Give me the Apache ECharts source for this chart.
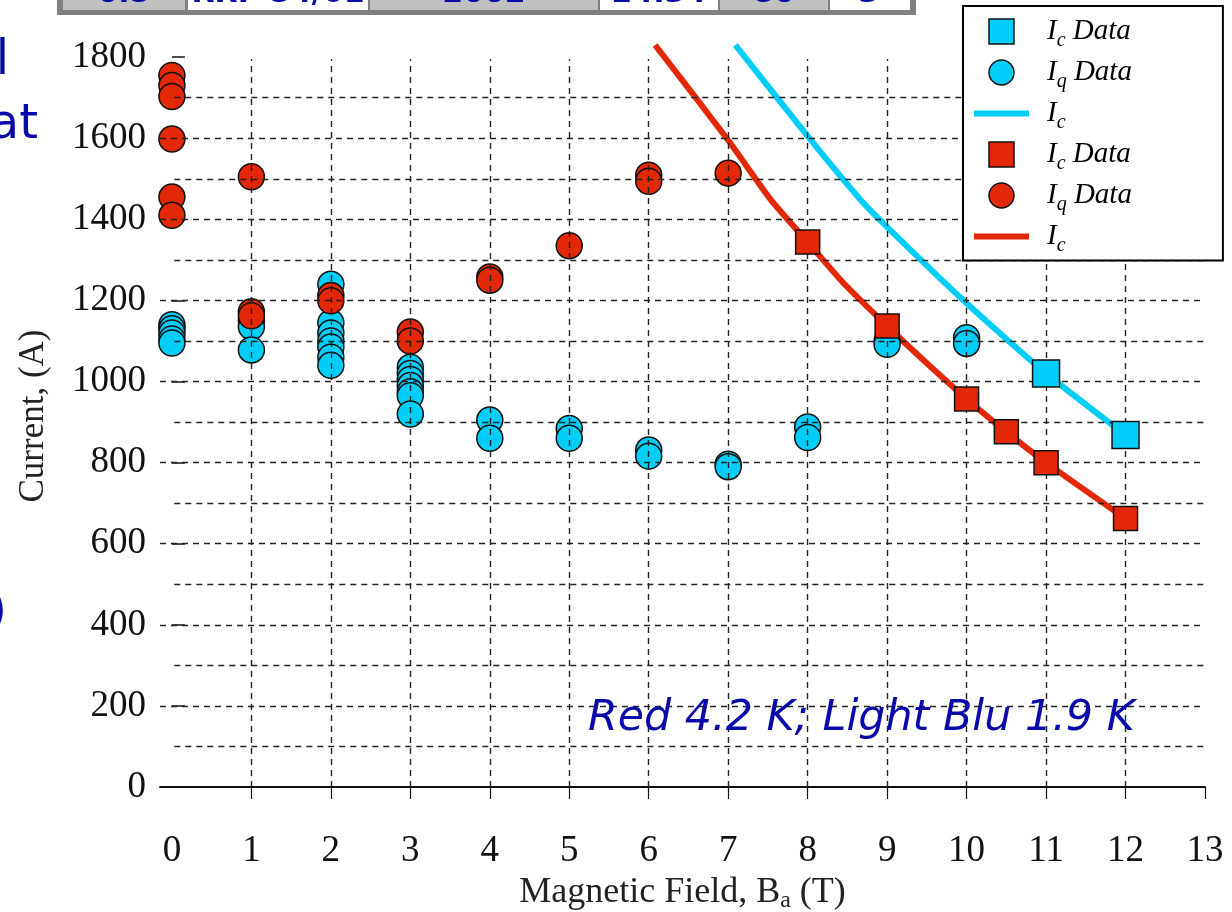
<!DOCTYPE html>
<html>
<head>
<meta charset="utf-8">
<script src="https://cdn.jsdelivr.net/npm/echarts@6/dist/echarts.min.js"></script>
<style>
  html, body { margin: 0; padding: 0; background: #fff; }
  #chart { width: 1232px; height: 912px; }
</style>
</head>
<body>
<div id="chart"></div>
<script>
// Axis ticks
const fieldTicks = [0, 1, 2, 3, 4, 5, 6, 7, 8, 9, 10, 11, 12, 13];
const fieldGridLines = [1, 2, 3, 4, 5, 6, 7, 8, 9, 10, 11, 12];
const currentTicks = [0, 200, 400, 600, 800, 1000, 1200, 1400, 1600, 1800];
const currentMinorLines = [100, 300, 500, 700, 900, 1100, 1300, 1500, 1700];
const currentMajorLines = [200, 400, 600, 800, 1000, 1200, 1400, 1600];

// 1.9 K (light blue): quench currents, critical-current points and Ic curve
const iqData19 = [
  [0, 1140], [0, 1130], [0, 1120], [0, 1105], [0, 1095],
  [1, 1150], [1, 1135], [1, 1078],
  [2, 1240], [2, 1145], [2, 1120], [2, 1100], [2, 1085], [2, 1060], [2, 1040],
  [3, 1035], [3, 1020], [3, 1005], [3, 990], [3, 975], [3, 965], [3, 920],
  [4, 905], [4, 860],
  [5, 884], [5, 860],
  [6, 831], [6, 816],
  [7, 796], [7, 790],
  [8, 888], [8, 862],
  [9, 1100], [9, 1092],
  [10, 1108], [10, 1094]
];
const icData19 = [[11, 1020], [12, 868]];
const icCurve19 = [[7.09, 1830], [8, 1605], [8.67, 1447], [9, 1381], [10, 1193], [11, 1020], [12, 868]];

// 4.2 K (red)
const iqData42 = [
  [0, 1755], [0, 1730], [0, 1703], [0, 1598], [0, 1455], [0, 1410],
  [1, 1505], [1, 1172], [1, 1162],
  [2, 1212], [2, 1199],
  [3, 1122], [3, 1100],
  [4, 1258], [4, 1250],
  [5, 1335],
  [6, 1509], [6, 1494],
  [7, 1514]
];
const icData42 = [[8, 1344], [9, 1137], [10, 957], [10.5, 876], [11, 800], [12, 662]];
const icCurve42 = [[6.08, 1830], [7, 1595], [7.53, 1450], [8, 1344], [8.45, 1243], [9, 1137],
  [9.5, 1045], [10, 957], [10.5, 876], [11, 800], [12, 662]];

const BLUE = '#00CEF8';
const RED = '#E22806';
const SERIF = '"Liberation Serif", "DejaVu Serif", serif';
const SLIDE_BLUE = '#0A0AA8';

const legendText = {
  'Ic Data 1.9 K': '{f|I}{s|c}{i| Data}',
  'Iq Data 1.9 K': '{f|I}{s|q}{i| Data}',
  'Ic 1.9 K': '{f|I}{s|c}',
  'Ic Data 4.2 K': '{f|I}{s|c}{i| Data}',
  'Iq Data 4.2 K': '{f|I}{s|q}{i| Data}',
  'Ic 4.2 K': '{f|I}{s|c}'
};
const SQUARE_ICON = 'path://M0,0L10,0L10,10L0,10Z';
const BAR_ICON = 'path://M0,0L55,0L55,6L0,6Z';

// dashed grid drawn as mark lines so that major/minor lines can differ
const gridLines = [];
fieldGridLines.forEach(x => gridLines.push([{ coord: [x, 0] }, { coord: [x, 1795] }]));
currentMajorLines.forEach(v => gridLines.push([{ coord: [-0.15, v] }, { coord: [13, v] }]));
currentMinorLines.forEach(v => gridLines.push([{ coord: [0.03, v] }, { coord: [13, v] }]));

const markerStyle = color => ({ color: color, borderColor: '#111', borderWidth: 1.5, opacity: 1 });

function slideText(text, x, y, font, align) {
  return { type: 'text', x: x, y: y, silent: true,
    style: { text: text, fill: SLIDE_BLUE, font: font, textAlign: align, textVerticalAlign: 'middle' } };
}

const chart = echarts.init(document.getElementById('chart'), null, { renderer: 'canvas' });
chart.setOption({
  animation: false,
  backgroundColor: '#fff',
  grid: { left: 160, right: 27, top: 45, bottom: 125, containLabel: false, outerBoundsMode: 'none' },
  xAxis: {
    type: 'value', min: -0.15, max: 13,
    axisLine: { show: true, lineStyle: { color: '#111', width: 2 } },
    axisTick: { show: true, customValues: fieldTicks.slice(1), length: 12, inside: false,
      lineStyle: { color: '#111', width: 1.2 } },
    axisLabel: { customValues: fieldTicks, margin: 46, fontFamily: SERIF, fontSize: 37, color: '#111' },
    splitLine: { show: false },
    name: '{n|Magnetic Field, B}{s|a}{n| (T)}',
    nameLocation: 'middle', nameGap: 84,
    nameTextStyle: {
      rich: {
        n: { fontFamily: SERIF, fontSize: 36, color: '#222', lineHeight: 40 },
        s: { fontFamily: SERIF, fontSize: 24, color: '#222', verticalAlign: 'bottom' }
      }
    }
  },
  yAxis: {
    type: 'value', min: 0, max: 1830,
    axisLine: { show: false },
    axisTick: { show: true, customValues: currentTicks, inside: true, length: 13,
      lineStyle: { color: '#111', width: 1.5 } },
    axisLabel: { customValues: currentTicks, margin: 14, fontFamily: SERIF, fontSize: 37, color: '#111',
      formatter: v => String(v) },
    splitLine: { show: false },
    name: 'Current, (A)', nameLocation: 'middle', nameGap: 109, nameRotate: 90,
    nameTextStyle: { fontFamily: SERIF, fontSize: 35, color: '#222' }
  },
  legend: {
    orient: 'vertical', left: 963, top: 6, z: 20,
    padding: [11, 91, 5, 11],
    backgroundColor: '#fff', borderColor: '#000', borderWidth: 2,
    itemWidth: 55, itemHeight: 25, itemGap: 7.5,
    selectedMode: false,
    symbolKeepAspect: true,
    itemStyle: { borderColor: '#111', borderWidth: 1.5 },
    data: [
      { name: 'Ic Data 1.9 K', icon: SQUARE_ICON },
      { name: 'Iq Data 1.9 K', icon: 'circle' },
      { name: 'Ic 1.9 K', icon: BAR_ICON, itemStyle: { borderWidth: 0 } },
      { name: 'Ic Data 4.2 K', icon: SQUARE_ICON },
      { name: 'Iq Data 4.2 K', icon: 'circle' },
      { name: 'Ic 4.2 K', icon: BAR_ICON, itemStyle: { borderWidth: 0 } }
    ],
    formatter: name => legendText[name],
    textStyle: {
      rich: {
        f: { fontFamily: SERIF, fontStyle: 'italic', fontSize: 29, color: '#000', lineHeight: 38, padding: [0, 0, 0, 13] },
        i: { fontFamily: SERIF, fontStyle: 'italic', fontSize: 29, color: '#000', lineHeight: 38 },
        s: { fontFamily: SERIF, fontStyle: 'italic', fontSize: 20, color: '#000', verticalAlign: 'bottom' }
      }
    }
  },
  graphic: [
    // partial table strip along the top edge
    { type: 'rect', shape: { x: 57, y: -10, width: 859, height: 25 }, style: { fill: '#808080' }, silent: true },
    { type: 'rect', shape: { x: 63, y: -10, width: 122, height: 20 }, style: { fill: '#C0C0C0' }, silent: true },
    { type: 'rect', shape: { x: 188, y: -10, width: 180, height: 20 }, style: { fill: '#fff' }, silent: true },
    { type: 'rect', shape: { x: 370, y: -10, width: 228, height: 20 }, style: { fill: '#C0C0C0' }, silent: true },
    { type: 'rect', shape: { x: 600, y: -10, width: 118, height: 20 }, style: { fill: '#fff' }, silent: true },
    { type: 'rect', shape: { x: 720, y: -10, width: 108, height: 20 }, style: { fill: '#C0C0C0' }, silent: true },
    { type: 'rect', shape: { x: 830, y: -10, width: 80, height: 20 }, style: { fill: '#fff' }, silent: true },
    slideText('0.5', 124, -6, 'bold 30px "DejaVu Sans"', 'center'),
    slideText('RRP 54/61', 278, -6, 'bold 30px "DejaVu Sans"', 'center'),
    slideText('2002', 484, -6, 'bold 30px "DejaVu Sans"', 'center'),
    slideText('24.34', 659, -6, 'bold 30px "DejaVu Sans"', 'center'),
    slideText('80', 774, -6, 'bold 30px "DejaVu Sans"', 'center'),
    slideText('3', 869, -6, 'bold 30px "DejaVu Sans"', 'center'),
    // slide text running in from the left edge
    slideText('p', 14, -14, '48px "DejaVu Sans"', 'right'),
    slideText('l', 9, 62, '48px "DejaVu Sans"', 'right'),
    slideText('at', 38, 126, '48px "DejaVu Sans"', 'right'),
    slideText(')', 7, 614, '48px "DejaVu Sans"', 'right'),
    // temperature note
    { type: 'text', x: 588, y: 719, z: 10, silent: true,
      style: { text: 'Red 4.2 K; Light Blu 1.9 K', fill: SLIDE_BLUE, font: 'italic 42.8px "DejaVu Sans"',
        textAlign: 'left', textVerticalAlign: 'middle' } }
  ],
  series: [
    {
      name: 'grid', type: 'line', data: [], silent: true, z: 1,
      markLine: {
        silent: true, symbol: ['none', 'none'], label: { show: false },
        emphasis: { disabled: true },
        lineStyle: { type: [6, 5], color: '#222', width: 1.4 },
        data: gridLines
      }
    },
    {
      name: 'Ic 1.9 K', type: 'line', data: icCurve19, showSymbol: false, symbol: 'none', z: 2,
      smooth: 0.2,
      lineStyle: { color: BLUE, width: 6 }, itemStyle: { color: BLUE }
    },
    {
      name: 'Ic 4.2 K', type: 'line', data: icCurve42, showSymbol: false, symbol: 'none', z: 2,
      smooth: 0.2,
      lineStyle: { color: RED, width: 6 }, itemStyle: { color: RED }
    },
    {
      name: 'Iq Data 1.9 K', type: 'scatter', data: iqData19, symbol: 'circle', symbolSize: 26, z: 3,
      itemStyle: markerStyle(BLUE)
    },
    {
      name: 'Iq Data 4.2 K', type: 'scatter', data: iqData42, symbol: 'circle', symbolSize: 26, z: 4,
      itemStyle: markerStyle(RED)
    },
    {
      name: 'Ic Data 1.9 K', type: 'scatter', data: icData19, symbol: 'rect', symbolSize: 27, z: 5,
      itemStyle: markerStyle(BLUE)
    },
    {
      name: 'Ic Data 4.2 K', type: 'scatter', data: icData42, symbol: 'rect', symbolSize: 24, z: 5,
      itemStyle: markerStyle(RED)
    }
  ]
});
</script>
</body>
</html>
